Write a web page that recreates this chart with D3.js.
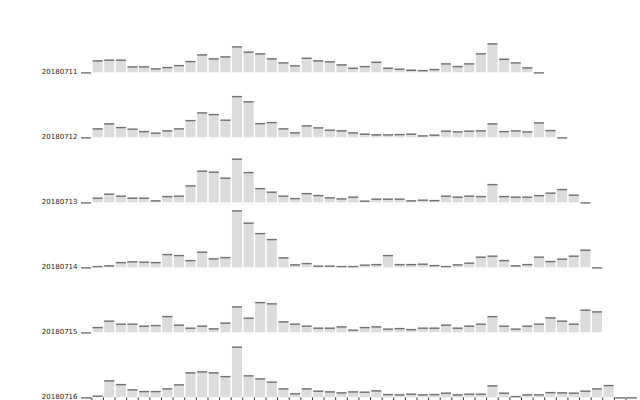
<!DOCTYPE html>
<html><head><meta charset="utf-8">
<script src="https://cdn.jsdelivr.net/npm/d3@7"></script>
<style>body{margin:0;background:#fff}svg{display:block}</style>
</head><body>
<svg id="chart" width="640" height="400"></svg>
<script>
const days = ["20180711","20180712","20180713","20180714","20180715","20180716"];
const slots = ["00:00","00:30","01:00","01:30","02:00","02:30","03:00","03:30","04:00","04:30",
  "05:00","05:30","06:00","06:30","07:00","07:30","08:00","08:30","09:00","09:30",
  "10:00","10:30","11:00","11:30","12:00","12:30","13:00","13:30","14:00","14:30",
  "15:00","15:30","16:00","16:30","17:00","17:30","18:00","18:30","19:00","19:30",
  "20:00","20:30","21:00","21:30","22:00","22:30","23:00","23:30"];
const values20180711 = [0,12,12.7,12.7,6,6,4,5.3,7.3,11.3,18,14,16,26,20.7,19,14,10,7,14.6,12,11,8,4.6,6.3,10.6,4.6,3.6,2.6,2.3,3.3,9,6.3,9,19,29,13.6,10,5,0];
const values20180712 = [0,9,14,10.3,8.7,6.3,4.7,7,9,17.3,25,23.3,17.7,41.3,36,14.3,15.3,9,5,12,10,7.7,7,5,3.7,3,3,3.3,3.7,2,2.7,6.7,6,6.7,7,14,6.3,7,6,15,7.3,0];
const values20180713 = [0,4.7,8.7,6.7,4.7,4.7,2,6.3,6.7,17,31.7,30.7,24.7,43.7,30.3,14.3,10.7,6.7,4.3,9.3,7.3,5,4,5.7,1.7,3.7,3.7,3.7,2,2.7,2.3,6.7,5.7,6.7,6.3,18.3,6.3,5.7,5.7,7.3,9.7,13.3,7.7,0];
const values20180714 = [0,1.3,2,5.3,6,5.7,5.3,13.3,12.3,7.3,15.7,9,10.3,57,44.7,34.3,28.3,10,3,4.3,1.7,1.7,1.3,1.3,2.7,3.3,12.3,3.3,3.3,3.7,2.3,1.3,3,4.7,10.7,11.7,7.3,2,3.3,10.7,6.3,8.7,11.7,17.7,0];
const values20180715 = [0,5.3,11.7,8.7,8.7,6.7,7.3,16.3,7.7,4.7,6.7,4,9.7,26,14.7,30.3,29,11,8.7,6.7,4.7,4.7,6,2.7,5.3,6,3.7,4.3,3.3,4.7,4.7,7.7,4.7,6.7,8.7,16.3,6.7,3.7,6.7,8.7,15,11.7,8.7,22.7,21];
const values20180716 = [0,1.7,17,13.3,8,6.3,6.3,9,13,25,26,25,21.3,50.7,22,19,15.7,9,4,9,6.7,6,5,6,5.7,7,3.3,3,3.7,3,3.3,4.7,3,3.7,3.7,12,4.7,1.3,3,3,5.3,5,4.7,6.7,9,12.3,0,0];
const series = [values20180711, values20180712, values20180713, values20180714, values20180715, values20180716];

const svg = d3.select("#chart");
const x = d3.scaleBand().domain(slots).range([81, 81 + 11.58 * 48]).paddingInner(0.136).paddingOuter(0).align(0);
const row = d3.scalePoint().domain(days).range([72.3, 397.3]);
const h = d3.scaleLinear().domain([0, 60]).range([0, 60]);

// bottom axis with ticks at bar starts
const lastDay = days[days.length - 1];
const axis = d3.axisBottom(x).tickSize(5).tickSizeOuter(0).tickFormat("");
const gx = svg.append("g").attr("transform", `translate(0,${row(lastDay)})`).call(axis);
gx.select(".domain").remove();
gx.selectAll(".tick").attr("transform", d => `translate(${x(d) - 0.8},0)`).filter(d => d === slots[0]).remove();
gx.selectAll(".tick line").attr("stroke", "#333").attr("stroke-width", 1);

days.forEach((day, di) => {
  const base = row(day);
  const g = svg.append("g");
  const data = series[di].map((v, i) => ({slot: slots[i], v}));
  g.selectAll("rect").data(data.filter(d => d.v > 0)).join("rect")
    .attr("x", d => x(d.slot))
    .attr("width", x.bandwidth())
    .attr("y", d => base - h(d.v))
    .attr("height", d => h(d.v))
    .attr("fill", "#dcdcdc");
  g.selectAll("line").data(data).join("line")
    .attr("x1", d => x(d.slot))
    .attr("x2", d => x(d.slot) + x.bandwidth())
    .attr("y1", d => base - h(d.v) + 0.6)
    .attr("y2", d => base - h(d.v) + 0.6)
    .attr("stroke", "#707070")
    .attr("stroke-width", 1.4);
  g.append("text")
    .attr("x", 77.5).attr("y", base - 0.8).attr("dy", "0.33em")
    .attr("text-anchor", "end")
    .attr("font-family", "DejaVu Sans")
    .attr("font-size", 7).attr("fill", "#222")
    .text(day);
});
</script>
</body></html>
